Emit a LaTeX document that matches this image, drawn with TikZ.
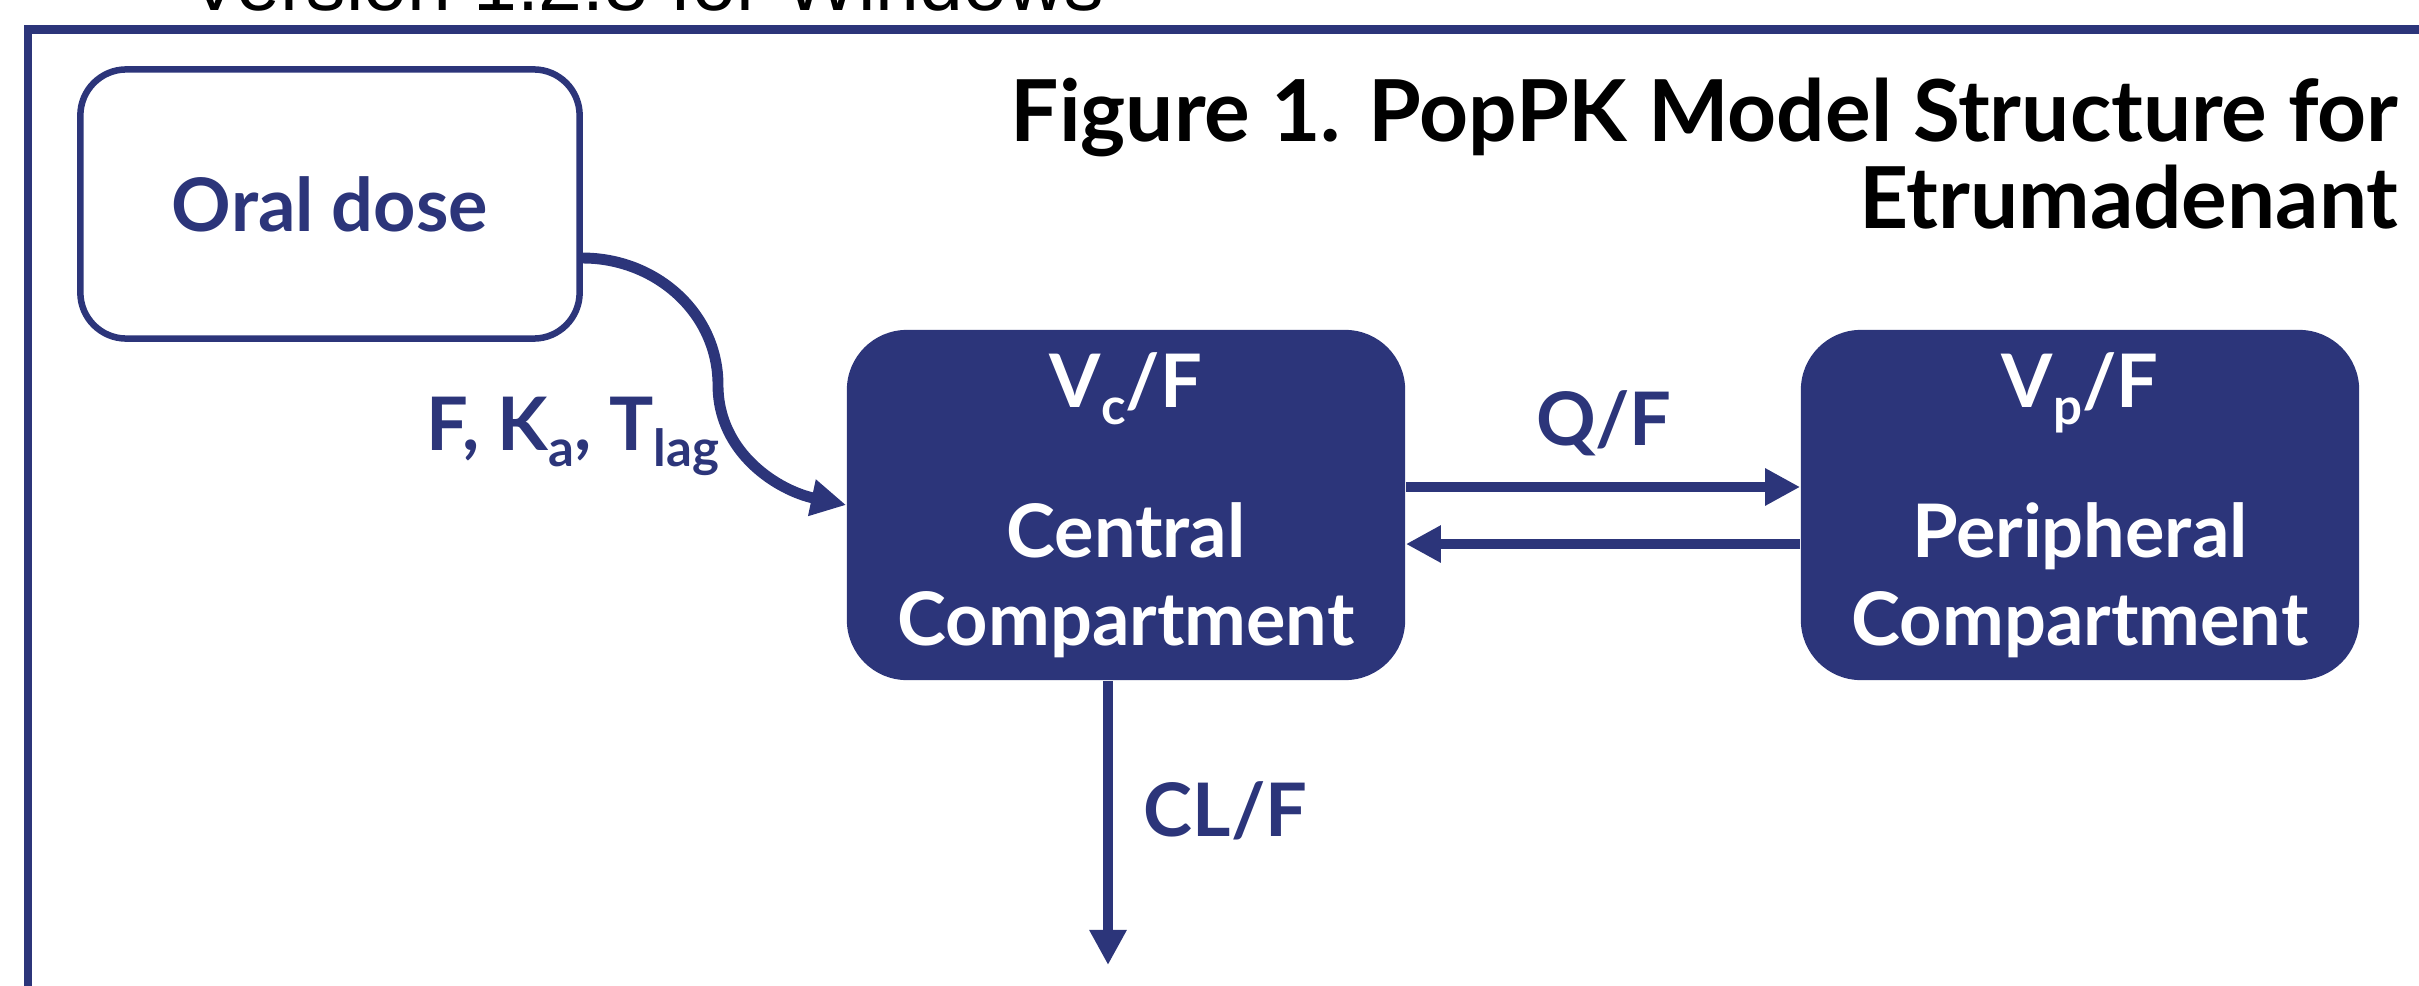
\documentclass[tikz,border=0pt]{standalone}
\usepackage{fontspec}
\setmainfont{Lato}
\newfontfamily\versionfont{Liberation Sans}
\usetikzlibrary{arrows.meta, positioning}
\definecolor{pknavy}{RGB}{44,53,122}
% lowered, smaller subscript as in the figure
\newcommand{\lowsub}[1]{\raisebox{-4.8pt}{\fontsize{14.5pt}{14.5pt}\selectfont #1}}

\begin{document}
\begin{tikzpicture}[x=0.01cm, y=-0.01cm,
    % box and label styles
    boxfont/.style={font=\fontsize{21pt}{25pt}\selectfont\bfseries},
    dosebox/.style={boxfont, draw=pknavy, line width=1.85pt, fill=white, text=pknavy, rounded corners=0.46cm, minimum width=4.99cm, minimum height=2.69cm},
    cmpt/.style={boxfont, fill=pknavy, text=white, align=center, rounded corners=0.6cm, minimum width=5.58cm, minimum height=3.5cm, inner sep=0pt},
    lbl/.style={boxfont, text=pknavy, inner sep=0pt},
    titletxt/.style={font=\fontsize{24.3pt}{25pt}\selectfont\bfseries, inner sep=0pt, anchor=base east},
    flow/.style={draw=pknavy, line width=3.1pt, -{Triangle[length=0.35cm, width=0.35cm]}}]

\useasboundingbox (0,0) rectangle (2419,985);
\clip (0,0) rectangle (2419,985);

% caption line cut at the top and frame
\node[font=\versionfont\fontsize{22.4pt}{24pt}\selectfont, inner sep=0pt, anchor=base west] (version) at (188,11) {Version 1.2.8 for Windows};
\draw[pknavy, line width=2.28pt] (28,1100) -- (28,29.5) -- (2500,29.5);

% title
\node[titletxt] (title1) at (2399,142) {Figure 1. PopPK Model Structure for};
\node[titletxt] (title2) at ([yshift=-0.86cm]title1.base east) {Etrumadenant};

% compartments
\node[dosebox] (oral) at (330,204) {Oral dose};
\node[cmpt] (central) at (1126,505) {V\lowsub{c}/F\\[17.7pt] Central\\ Compartment};
\node[cmpt] (peripheral) at (2080,505) {V\lowsub{p}/F\\[17.7pt] Peripheral\\ Compartment};

% absorption
\coordinate (bend) at (718,385);
\draw[flow] ([yshift=-0.54cm]oral.east) to[out=0, in=90] (bend) to[out=-90, in=168] (central.west);
\node[lbl, anchor=base east] (abs) at (720,450) {F, K\lowsub{a}, T\lowsub{lag}};

% distribution
\draw[flow] ([yshift=0.18cm]central.east) -- ([yshift=0.18cm]peripheral.west);
\draw[flow] ([yshift=-0.39cm]peripheral.west) -- ([yshift=-0.39cm]central.east);
\node[lbl, anchor=base] (qf) at (1604,445) {Q/F};

% elimination
\coordinate (elim) at (1108,965);
\draw[flow] (central.south -| elim) -- (elim);
\node[lbl, anchor=base west] (clf) at (1143,836) {CL/F};

\end{tikzpicture}
\end{document}
